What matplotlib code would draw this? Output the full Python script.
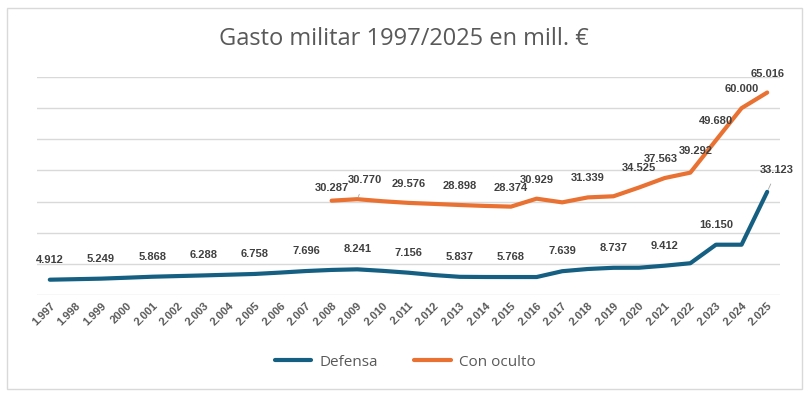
import matplotlib

matplotlib.use("Agg")
import matplotlib.pyplot as plt
from matplotlib.patches import Rectangle

YEARS = ["1.997", "1.998", "1.999", "2000", "2.001", "2.002", "2.003", "2.004",
         "2.005", "2.006", "2.007", "2.008", "2.009", "2.010", "2.011", "2.012",
         "2.013", "2.014", "2.015", "2.016", "2.017", "2.018", "2.019", "2.020",
         "2.021", "2.022", "2.023", "2.024", "2.025"]

DEFENSA = [4912, 5080, 5249, 5550, 5868, 6080, 6288, 6520, 6758, 7200, 7696,
           8050, 8241, 7750, 7156, 6400, 5837, 5780, 5768, 5770, 7639, 8350,
           8737, 8760, 9412, 10200, 16150, 16150, 33123]

# Con oculto, only from 2008 on
OCULTO_START = 11
OCULTO = [30287, 30770, 30100, 29576, 29250, 28898, 28600, 28374, 30929,
          29750, 31339, 31700, 34525, 37563, 39292, 49680, 60000, 65016]

DEF_LABELLED = list(range(0, 29, 2))
OCU_LABELLED = [11, 12, 14, 16, 18, 19, 21, 23, 24, 25, 26, 27, 28]

BLUE = "#156082"
ORANGE = "#E97132"
GRID = "#d9d9d9"
LABEL = "#404040"
TEXT = "#595959"


def fmt(v):
    return f"{v:,}".replace(",", ".")


fig = plt.figure(figsize=(8.12, 3.99), dpi=100)
ax = fig.add_axes([37 / 812, 1 - 295 / 399, 743 / 812, 218 / 399])

xs = list(range(len(YEARS)))
xo = list(range(OCULTO_START, OCULTO_START + len(OCULTO)))

ax.plot(xs, DEFENSA, color=BLUE, lw=3.0, solid_joinstyle="round",
        solid_capstyle="round", zorder=3, label="Defensa")
ax.plot(xo, OCULTO, color=ORANGE, lw=3.0, solid_joinstyle="round",
        solid_capstyle="round", zorder=3, label="Con oculto")

ax.set_xlim(-0.5, len(YEARS) - 0.5)
ax.set_ylim(0, 70000)
ax.set_yticks(range(0, 70001, 10000))
ax.yaxis.grid(True, color=GRID, lw=1.0)
ax.set_axisbelow(True)
ax.tick_params(axis="y", left=False, labelleft=False)
ax.tick_params(axis="x", length=0, pad=4)
for s in ax.spines.values():
    s.set_visible(False)

ax.set_xticks(xs)
ax.set_xticklabels(YEARS, rotation=45, ha="right", rotation_mode="anchor",
                   fontsize=8, color=TEXT, fontweight="bold",
                   family="Liberation Sans")

lbl = dict(textcoords="offset pixels", ha="center", va="center", fontsize=8,
           fontweight="bold", color=LABEL, family="Liberation Sans", zorder=5)
leader = dict(arrowstyle="-", color="#a6a6a6", lw=0.6, shrinkA=5, shrinkB=2)

# a few labels sit a little off-centre, as in the original
OCU_OFFSETS = {11: (0, 13), 12: (8, 19), 24: (-4, 19), 25: (5, 22)}

for i in DEF_LABELLED:
    if i == 28:
        ax.annotate(fmt(DEFENSA[i]), (i, DEFENSA[i]), xytext=(10, 22),
                    arrowprops=leader, **lbl)
    else:
        ax.annotate(fmt(DEFENSA[i]), (i, DEFENSA[i]), xytext=(0, 20), **lbl)

for i in OCU_LABELLED:
    v = OCULTO[i - OCULTO_START]
    off = OCU_OFFSETS.get(i, (0, 19))
    if i == 12:
        ax.annotate(fmt(v), (i, v), xytext=off, arrowprops=leader, **lbl)
    else:
        ax.annotate(fmt(v), (i, v), xytext=off, **lbl)

fig.text(404 / 812, 1 - 39 / 399, "Gasto militar 1997/2025 en mill. €",
         ha="center", va="center", fontsize=17, color=TEXT, family="Open Sans")

leg = fig.legend(loc="center", bbox_to_anchor=(405 / 812, 1 - 362 / 399),
                 ncol=2, frameon=False, handlelength=2.4,
                 columnspacing=2.4, handletextpad=0.5,
                 prop=dict(family="Open Sans", size=11))
for t in leg.get_texts():
    t.set_color(TEXT)

fig.patches.append(Rectangle((7 / 812, 1 - 389 / 399), 795 / 812, 381 / 399,
                             transform=fig.transFigure, fill=False,
                             edgecolor=GRID, lw=1.0))

fig.savefig("out.png", dpi=100)
